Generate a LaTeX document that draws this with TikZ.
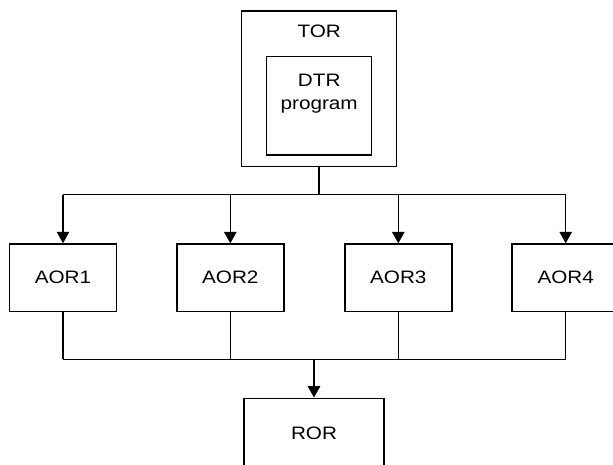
\documentclass[tikz,border=0pt]{standalone}
\usepackage{fontspec}
\setmainfont[FakeStretch=1.15]{Liberation Sans}
\usetikzlibrary{arrows.meta}

\tikzset{
  box/.style={draw, line width=1.5pt, minimum width=107pt, minimum height=67.5pt, inner sep=0pt},
  bus/.style={line width=1.5pt},
  arr/.style={line width=1.5pt, -{Triangle[length=11.5pt,width=12.5pt]}}
}

\begin{document}
\begin{tikzpicture}[x=1pt, y=-1pt, font=\fontsize{18}{23}\selectfont]
      % \draw[help lines, gray!50, very thin] (0,0) grid (613,464);
      \useasboundingbox (0,0) rectangle (613,464);

      % TOR with the DTR program inside
      \node[box, minimum width=155pt, minimum height=155.7pt] (tor) at (319.2,88.85) {};
      \node (torlabel) at (319.2,31.7) {TOR};
      \node[box, minimum width=105pt, minimum height=98.3pt] (dtr) at (319.2,105.8) {};
      \node[align=center] (dtrlabel) at (319.2,93.5) {DTR\\program};

      % AORs
      \foreach \x/\n in {63/1, 230.3/2, 398.3/3, 565.7/4}
        \node[box] (aor\n) at (\x,277.75) {AOR\n};

      \node[box, minimum width=140pt, minimum height=70pt] (ror) at (314,433.3) {ROR};

      % top bus
      \coordinate (topbus) at (319.2,194.7);
      \draw[bus] (tor.south) -- (topbus);
      \draw[bus] (aor1.north |- topbus) -- (aor4.north |- topbus);
      \foreach \n in {1,...,4}
        \draw[arr] (aor\n.north |- topbus) -- (aor\n.north);

      % bottom bus
      \coordinate (botbus) at (314,359.3);
      \foreach \n in {1,...,4}
        \draw[bus] (aor\n.south) -- (aor\n.south |- botbus);
      \draw[bus] (aor1.south |- botbus) -- (aor4.south |- botbus);
      \draw[arr] (botbus) -- (ror.north);
\end{tikzpicture}
\end{document}
